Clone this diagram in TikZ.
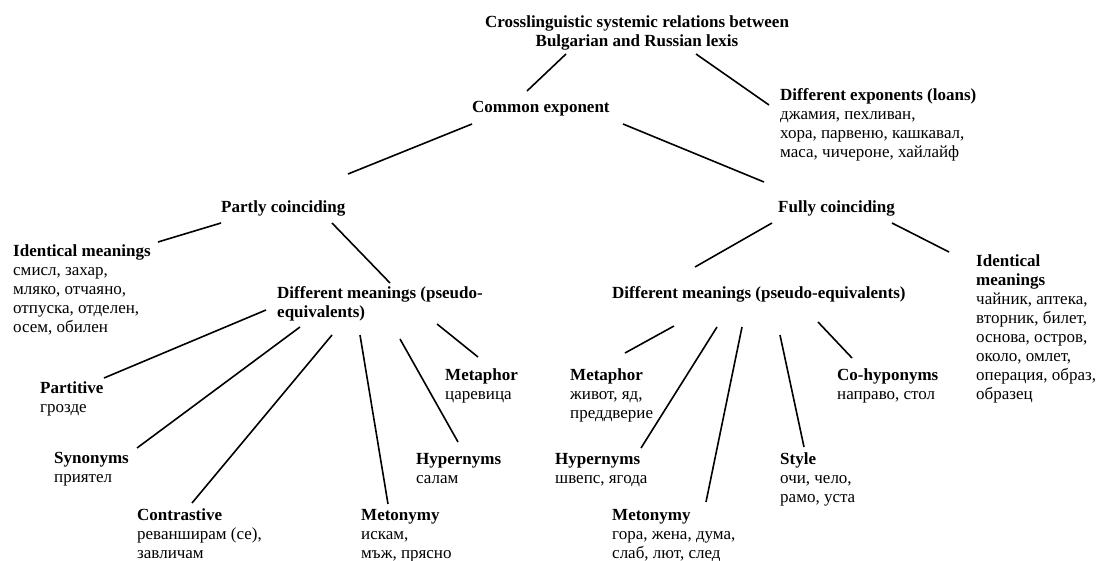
\documentclass[tikz,border=0pt]{standalone}
\usepackage{fontspec}
\setmainfont{Liberation Serif}

\begin{document}
\begin{tikzpicture}[
  x=1pt, y=-1pt,
  lbl/.style={anchor=north west, inner sep=0pt, align=left,
              font=\fontsize{17}{19}\selectfont},
  link/.style={line width=1.6pt}
]
\useasboundingbox (0,0) rectangle (1097,561);

% top levels
\node[lbl, anchor=north, align=center] (title) at (637,16)
  {\textbf{Crosslinguistic systemic relations between}\\\textbf{Bulgarian and Russian lexis}};
\node[lbl] (common) at (472,101) {\textbf{Common exponent}};
\node[lbl] (loans) at (780,88) {\textbf{Different exponents (loans)}\\джамия, пехливан,\\хора, парвеню, кашкавал,\\маса, чичероне, хайлайф};
\node[lbl] (partly) at (221,201) {\textbf{Partly coinciding}};
\node[lbl] (fully) at (778,201) {\textbf{Fully coinciding}};

% second level
\node[lbl] (identL) at (13,245) {\textbf{Identical meanings}\\смисл, захар,\\мляко, отчаяно,\\отпуска, отделен,\\осем, обилен};
\node[lbl] (diffL) at (277,286) {\textbf{Different meanings (pseudo-}\\\textbf{equivalents)}};
\node[lbl] (diffR) at (612,286) {\textbf{Different meanings (pseudo-equivalents)}};
\node[lbl] (identR) at (976,255) {\textbf{Identical}\\\textbf{meanings}\\чайник, аптека,\\вторник, билет,\\основа, остров,\\около, омлет,\\операция, образ,\\образец};

% leaves, left
\node[lbl] (partitive) at (40,382) {\textbf{Partitive}\\грозде};
\node[lbl] (synonyms) at (54,452) {\textbf{Synonyms}\\приятел};
\node[lbl] (contrastive) at (137,509) {\textbf{Contrastive}\\реванширам (се),\\завличам};
\node[lbl] (metonymyL) at (361,509) {\textbf{Metonymy}\\искам,\\мъж, прясно};
\node[lbl] (hypernymsL) at (416,453) {\textbf{Hypernyms}\\салам};
\node[lbl] (metaphorL) at (445,369) {\textbf{Metaphor}\\царевица};

% leaves, right
\node[lbl] (metaphorR) at (570,369) {\textbf{Metaphor}\\живот, яд,\\преддверие};
\node[lbl] (hypernymsR) at (555,453) {\textbf{Hypernyms}\\швепс, ягода};
\node[lbl] (metonymyR) at (612,509) {\textbf{Metonymy}\\гора, жена, дума,\\слаб, лют, след};
\node[lbl] (style) at (780,453) {\textbf{Style}\\очи, чело,\\рамо, уста};
\node[lbl] (cohyp) at (837,369) {\textbf{Co-hyponyms}\\направо, стол};

% connectors
\draw[link] ([shift={(-71,38)}]title.north) -- ([shift={(55,-10)}]common.north west);
\draw[link] ([shift={(59,38)}]title.north) -- ([shift={(-11,17)}]loans.north west);
\draw[link] ([shift={(0,23)}]common.north west) -- ([shift={(127,-27)}]partly.north west);
\draw[link] ([shift={(151,23)}]common.north west) -- ([shift={(-14,-19)}]fully.north west);
\draw[link] ([shift={(0,22)}]partly.north west) -- ([shift={(145,-3)}]identL.north west);
\draw[link] ([shift={(111,22)}]partly.north west) -- ([shift={(113,-3)}]diffL.north west);
\draw[link] ([shift={(-6,22)}]fully.north west) -- ([shift={(83,-19)}]diffR.north west);
\draw[link] ([shift={(114,22)}]fully.north west) -- ([shift={(-27,-3)}]identR.north west);

\draw[link] ([shift={(-11,24)}]diffL.north west) -- ([shift={(64,-4)}]partitive.north west);
\draw[link] ([shift={(23,41)}]diffL.north west) -- ([shift={(83,-4)}]synonyms.north west);
\draw[link] ([shift={(55,49)}]diffL.north west) -- ([shift={(55,-6)}]contrastive.north west);
\draw[link] ([shift={(83,49)}]diffL.north west) -- ([shift={(27,-5)}]metonymyL.north west);
\draw[link] ([shift={(123,53)}]diffL.north west) -- ([shift={(42,-11)}]hypernymsL.north west);
\draw[link] ([shift={(160,38)}]diffL.north west) -- ([shift={(33,-12)}]metaphorL.north west);

\draw[link] ([shift={(62,40)}]diffR.north west) -- ([shift={(55,-16)}]metaphorR.north west);
\draw[link] ([shift={(105,41)}]diffR.north west) -- ([shift={(86,-5)}]hypernymsR.north west);
\draw[link] ([shift={(130,41)}]diffR.north west) -- ([shift={(94,-7)}]metonymyR.north west);
\draw[link] ([shift={(168,49)}]diffR.north west) -- ([shift={(24,-6)}]style.north west);
\draw[link] ([shift={(206,36)}]diffR.north west) -- ([shift={(15,-11)}]cohyp.north west);

\end{tikzpicture}
\end{document}
